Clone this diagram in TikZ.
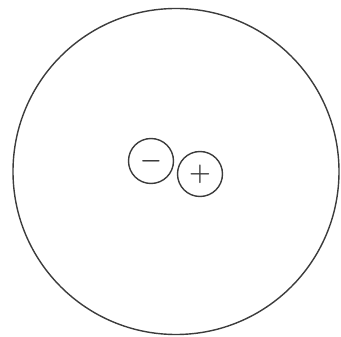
\documentclass[tikz,border=0pt]{standalone}
\usetikzlibrary{positioning}
\definecolor{inkGray}{RGB}{60,60,60}

\begin{document}
\begin{tikzpicture}[
  x=1pt, y=-1pt,
  outer/.style={circle, draw=inkGray, line width=1.4pt, minimum size=326pt, inner sep=0pt},
  charge/.style={circle, draw=inkGray, line width=1.4pt, minimum size=45pt, inner sep=0pt, font=\Huge\boldmath, text=inkGray}
]
\useasboundingbox (0,0) rectangle (341,337);

\node[outer] (atom) at (176,171.5) {};

\node[charge] (minus) at (151,161) {$-$};
\node[charge] (plus) at (200,174) {$+$};
\end{tikzpicture}
\end{document}
